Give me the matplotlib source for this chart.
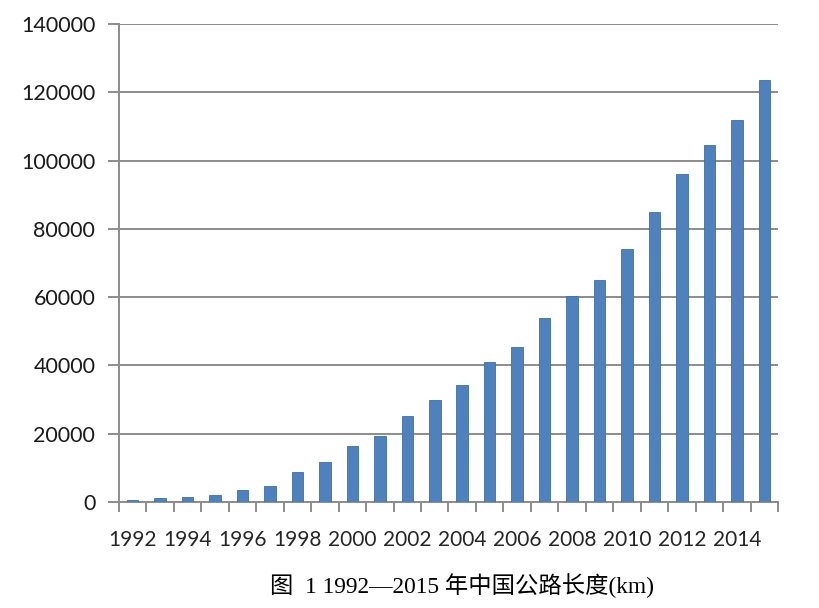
import numpy as np
import matplotlib.pyplot as plt

years = list(range(1992, 2016))
length_km = [652, 1145, 1603, 2141, 3422, 4771, 8733, 11605, 16314, 19437,
             25130, 29745, 34288, 41005, 45339, 53913, 60302, 65055, 74113,
             84946, 96200, 104438, 111936, 123500]
y_ticks = [0, 20000, 40000, 60000, 80000, 100000, 120000, 140000]
caption = "图  1 1992—2015 年中国公路长度(km)"

fig = plt.figure(figsize=(8.2, 6.08), dpi=100)
ax = fig.add_axes([0.1451, 0.1743, 0.8037, 0.7862])

x = np.arange(len(years))
ax.bar(x, length_km, width=0.42, color='#4f81bd', edgecolor='#3f6fa8',
       linewidth=0.6, zorder=3)

ax.set_xlim(-0.5, len(years) - 0.5)
ax.set_ylim(0, 140000)
ax.set_yticks(y_ticks)
ax.set_yticklabels([str(v) for v in y_ticks], fontsize=15.5, family='Lato',
                   color='#1a1a1a')
ax.yaxis.grid(True, color='#8c8c8c', linewidth=1.4, zorder=0)

# labels every other year, tick marks at category boundaries
ax.set_xticks(x[::2])
ax.set_xticklabels([str(y) for y in years[::2]], fontsize=15, family='Lato',
                   color='#262626')
ax.tick_params(axis='x', length=0, pad=20)
ax.set_xticks(np.arange(-0.5, len(years), 1), minor=True)
ax.tick_params(axis='x', which='minor', length=7, width=1.4,
               color='#8c8c8c')
ax.tick_params(axis='y', length=8, width=1.4, color='#8c8c8c', pad=9)

for side in ['top', 'right']:
    ax.spines[side].set_visible(False)
for side in ['left', 'bottom']:
    ax.spines[side].set_color('#8c8c8c')
    ax.spines[side].set_linewidth(1.4)

fig.text(0.564, 0.037, caption, ha='center', va='center', fontsize=16.8,
         family=['Liberation Serif', 'Noto Sans CJK SC'], color='black')

plt.savefig('out.png', dpi=100)
